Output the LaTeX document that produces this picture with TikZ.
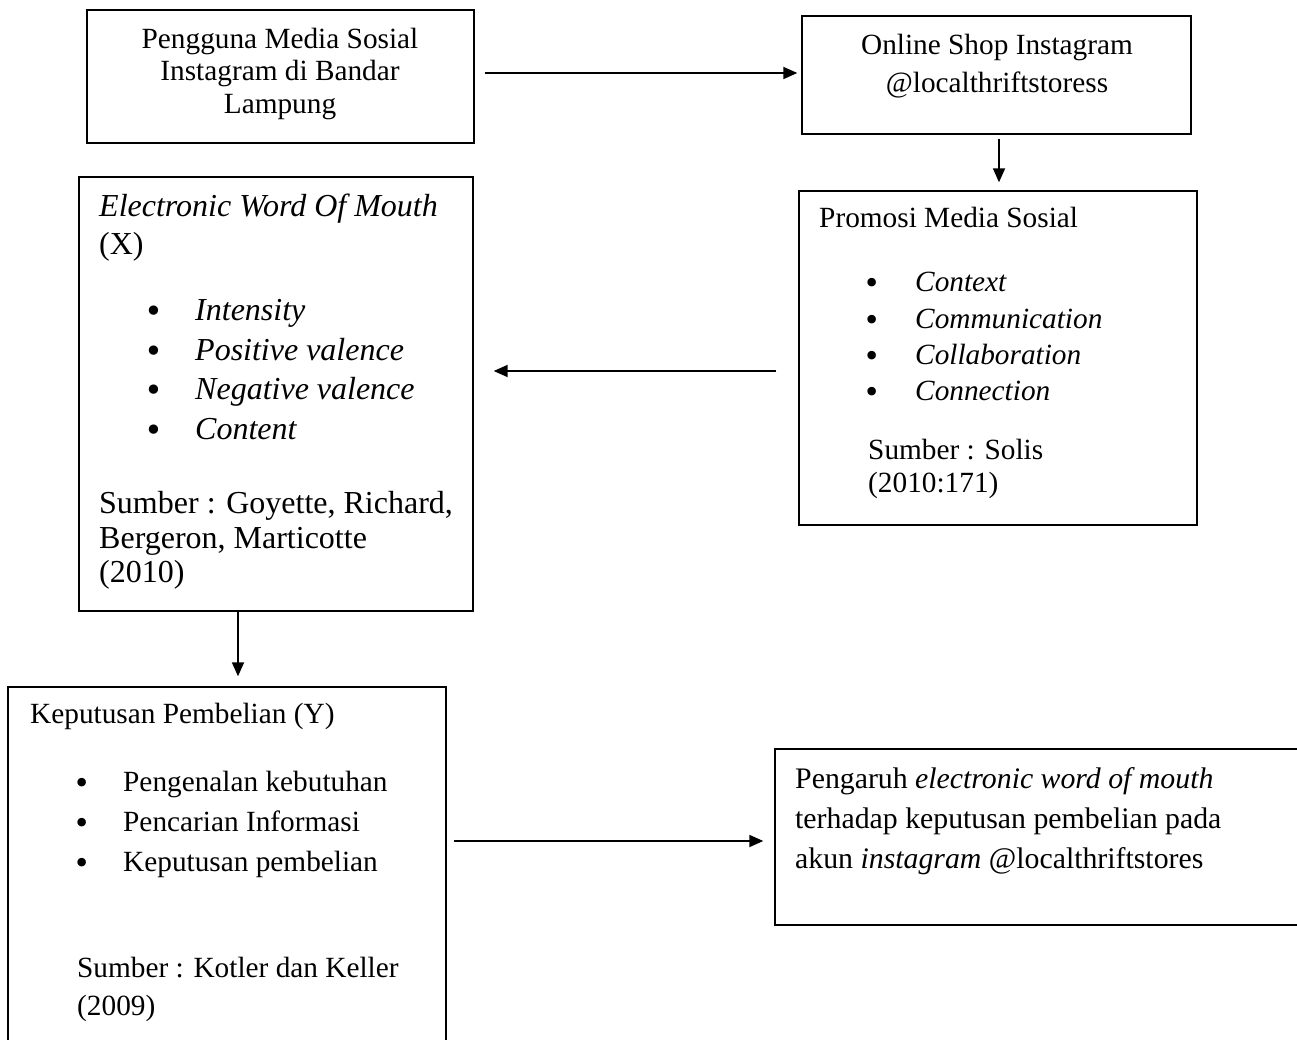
\documentclass[tikz,border=0pt]{standalone}
\usepackage{fontspec}
\setmainfont{Liberation Serif}
\newfontfamily\bulfont{DejaVu Sans}
\usetikzlibrary{arrows.meta}
\newcommand{\bigbul}{\makebox[0pt]{\smash{\raisebox{-2pt}{\bulfont\upshape •}}}}
\begin{document}
\begin{tikzpicture}[x=1pt,y=-1pt,
  box/.style={draw, line width=1.4pt, rectangle, inner sep=0pt},
  arr/.style={line width=1.8pt, -{Triangle[length=14pt,width=12pt]}},
  txt/.style={inner sep=0pt, anchor=base west, font=\fontsize{29.3pt}{35pt}\selectfont},
  ctxt/.style={txt, anchor=base},
  itxt/.style={txt, font=\fontsize{29.3pt}{35pt}\selectfont\itshape},
  etxt/.style={txt, font=\fontsize{32pt}{38pt}\selectfont},
  eitxt/.style={txt, font=\fontsize{32pt}{38pt}\selectfont\itshape},
  ptxt/.style={txt, font=\fontsize{29.8pt}{35pt}\selectfont}]
\useasboundingbox (0,0) rectangle (1297,1040);
% boxes
\node[box, minimum width=387pt, minimum height=133pt] (b1) at (280.5,76.5) {};
\node[box, minimum width=389pt, minimum height=118pt] (b2) at (996.5,75) {};
\node[box, minimum width=398pt, minimum height=334pt] (b3) at (998,358) {};
\node[box, minimum width=394pt, minimum height=434pt] (ew) at (276,394) {};
\node[box, minimum width=438pt, minimum height=380pt] (kp) at (227,877) {};
\node[box, minimum width=540pt, minimum height=176pt] (pg) at (1045,837) {};
% box 1 text
\node[ctxt] (t11) at (280,49) {Pengguna Media Sosial};
\node[ctxt] (t12) at (280,81) {Instagram di Bandar};
\node[ctxt] (t13) at (280,114) {Lampung};
% box 2 text
\node[ctxt] (t21) at (997,55) {Online Shop Instagram};
\node[ctxt] (t22) at (997,93) {@localthriftstoress};
% box 3 text
\node[txt] (t31) at (819,228) {Promosi Media Sosial};
\node[itxt] (t32) at (872,291) {\bigbul\hspace{43pt}Context};
\node[itxt] (t33) at (872,328) {\bigbul\hspace{43pt}Communication};
\node[itxt] (t34) at (872,364) {\bigbul\hspace{43pt}Collaboration};
\node[itxt] (t35) at (872,400) {\bigbul\hspace{43pt}Connection};
\node[txt] (t36) at (868,459) {Sumber : Solis};
\node[txt] (t37) at (868,492) {(2010:171)};
% EWOM text
\node[eitxt] (e1) at (99,217) {Electronic Word Of Mouth};
\node[etxt] (e2) at (99,255) {(X)};
\node[eitxt] (e3) at (154,320) {\bigbul\hspace{41pt}Intensity};
\node[eitxt] (e4) at (154,360) {\bigbul\hspace{41pt}Positive valence};
\node[eitxt] (e5) at (154,399) {\bigbul\hspace{41pt}Negative valence};
\node[eitxt] (e6) at (154,439) {\bigbul\hspace{41pt}Content};
\node[etxt] (e7) at (99,513) {Sumber : Goyette, Richard,};
\node[etxt] (e8) at (99,548) {Bergeron, Marticotte};
\node[etxt] (e9) at (99,582) {(2010)};
% Keputusan text
\node[txt] (k1) at (30,723) {Keputusan Pembelian (Y)};
\node[txt] (k2) at (82,791) {\bigbul\hspace{41pt}Pengenalan kebutuhan};
\node[txt] (k3) at (82,831) {\bigbul\hspace{41pt}Pencarian Informasi};
\node[txt] (k4) at (82,871) {\bigbul\hspace{41pt}Keputusan pembelian};
\node[txt] (k5) at (77,977) {Sumber : Kotler dan Keller};
\node[txt] (k6) at (77,1015) {(2009)};
% Pengaruh text
\node[ptxt] (p1) at (795,788) {Pengaruh \textit{electronic word of mouth}};
\node[ptxt] (p2) at (795,828) {terhadap keputusan pembelian pada};
\node[ptxt] (p3) at (795,868) {akun \textit{instagram} @localthriftstores};
% connectors
\draw[arr] ([xshift=10pt,yshift=3.5pt]b1.east) -- ([xshift=-4pt,yshift=2pt]b2.west);
\draw[arr] ([xshift=2.5pt,yshift=-4pt]b2.south) -- ([xshift=1pt,yshift=8pt]b3.north);
\draw[arr] ([xshift=-22pt,yshift=-13pt]b3.west) -- ([xshift=20pt,yshift=23pt]ew.east);
\draw[arr] ([xshift=-38pt]ew.south) -- ([xshift=11pt,yshift=10pt]kp.north);
\draw[arr] ([xshift=7pt,yshift=36pt]kp.east) -- ([xshift=-11pt,yshift=-4pt]pg.west);
\end{tikzpicture}
\end{document}
